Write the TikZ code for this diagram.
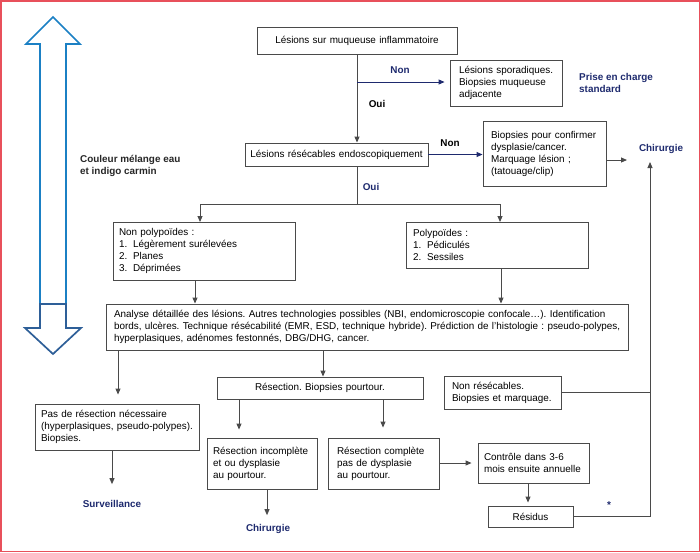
\documentclass[tikz,border=0pt]{standalone}
\usepackage{fontspec}
\setmainfont{Liberation Sans}
\usetikzlibrary{arrows.meta,calc}
\definecolor{navy}{HTML}{1E2A6E}
\definecolor{lblue}{HTML}{1B80C4}
\definecolor{dblue}{HTML}{2E5F98}
\definecolor{framecol}{HTML}{E8505B}
\definecolor{linegray}{HTML}{4A4A4A}
\frenchspacing
\begin{document}
\begin{tikzpicture}[x=1pt,y=-1pt,
  font=\fontsize{9.9}{12}\selectfont,
  box/.style={draw=linegray, line width=0.9pt, rectangle, inner ysep=0pt, align=left},
  cbox/.style={box, align=center},
  arr/.style={draw=linegray, line width=0.9pt, -{Triangle[length=6pt,width=5pt]}},
  narr/.style={draw=navy, line width=0.9pt, -{Triangle[length=6pt,width=5pt]}},
  conn/.style={draw=linegray, line width=0.9pt},
  lbl/.style={font=\fontsize{9.9}{12}\selectfont\bfseries, inner sep=0pt, align=left},
  nlbl/.style={lbl, text=navy},
  bigarrow/.style={line width=1.7pt, fill=white, line join=miter}
]
% frame / bounding box
\draw[framecol, line width=1.5pt] (0.75,0.75) rectangle (699.25,551.25);
\useasboundingbox (0,0) rectangle (700,552);

% big double arrow
\draw[bigarrow, draw=lblue] (53,17) -- (80,44) -- (66,44) -- (66,304) -- (40,304) -- (40,44) -- (26,44) -- cycle;
\draw[bigarrow, draw=dblue] (40,304) -- (66,304) -- (66,328) -- (81,328) -- (53,354) -- (25,328) -- (40,328) -- cycle;
\node[lbl, text=black!85, anchor=west] (couleur) at (80,166) {Couleur mélange eau\\et indigo carmin};

% boxes
\node[cbox, minimum width=200pt, minimum height=27pt, text width=190pt, inner xsep=5pt] (b1) at (357,40.5) {Lésions sur muqueuse inflammatoire};
\node[cbox, minimum width=183pt, minimum height=23pt, text width=175pt, inner xsep=4pt] (b2) at (336.5,154.5) {Lésions résécables endoscopiquement};
\node[box, minimum width=112pt, minimum height=46pt, text width=94pt, inner xsep=9pt] (b3) at (506,83) {\mbox{Lésions sporadiques.}\\\mbox{Biopsies muqueuse}\\adjacente};
\node[box, minimum width=123pt, minimum height=65pt, text width=107pt, inner xsep=8pt] (b4) at (544.5,153.5) {\mbox{Biopsies pour confirmer}\\\mbox{dysplasie/cancer.}\\\mbox{Marquage lésion ;}\\\mbox{(tatouage/clip)}};
\node[box, minimum width=182pt, minimum height=58pt, text width=170pt, inner xsep=6pt] (b5) at (204,251) {Non polypoïdes :\\\makebox[14pt][l]{1.}Légèrement surélevées\\\makebox[14pt][l]{2.}Planes\\\makebox[14pt][l]{3.}Déprimées};
\node[box, minimum width=182pt, minimum height=46pt, text width=168pt, inner xsep=7pt] (b6) at (497,245) {Polypoïdes :\\\makebox[14pt][l]{1.}Pédiculés\\\makebox[14pt][l]{2.}Sessiles};
\node[box, minimum width=522pt, minimum height=46pt, text width=506pt, inner xsep=8pt] (b7) at (367,327) {\mbox{Analyse détaillée des lésions. Autres technologies possibles (NBI, endomicroscopie confocale…). Identification}\\\mbox{bords, ulcères. Technique résécabilité (EMR, ESD, technique hybride). Prédiction de l’histologie : pseudo-polypes,}\\\mbox{hyperplasiques, adénomes festonnés, DBG/DHG, cancer.}};
\node[cbox, minimum width=206pt, minimum height=22pt, text width=196pt, inner xsep=5pt] (b8) at (320,388) {Résection. Biopsies pourtour.};
\node[box, minimum width=164pt, minimum height=46pt, text width=152pt, inner xsep=6pt] (b9) at (117,427) {\mbox{Pas de résection nécessaire}\\\mbox{(hyperplasiques, pseudo-polypes).}\\Biopsies.};
\node[box, minimum width=110pt, minimum height=51pt, text width=98pt, inner xsep=6pt] (b10) at (262,463.5) {\mbox{Résection incomplète}\\\mbox{et ou dysplasie}\\\mbox{au pourtour.}};
\node[box, minimum width=111pt, minimum height=51pt, text width=93pt, inner xsep=9pt] (b11) at (383.5,463.5) {\mbox{Résection complète}\\\mbox{pas de dysplasie}\\\mbox{au pourtour.}};
\node[box, minimum width=111pt, minimum height=40pt, text width=99pt, inner xsep=6pt] (b12) at (533.5,463) {\mbox{Contrôle dans 3-6}\\\mbox{mois ensuite annuelle}};
\node[cbox, minimum width=85pt, minimum height=21pt, text width=77pt, inner xsep=4pt] (b13) at (530.5,516.5) {Résidus};
\node[box, minimum width=117pt, minimum height=33pt, text width=101pt, inner xsep=8pt] (b14) at (502.5,392.5) {\mbox{Non résécables.}\\\mbox{Biopsies et marquage.}};

% labels
\node[nlbl] (non1) at (400,70) {Non};
\node[lbl] (oui1) at (377,104) {Oui};
\node[nlbl, anchor=west] (prise) at (579,82.5) {Prise en charge\\standard};
\node[lbl] (non2) at (450,143) {Non};
\node[nlbl] (chir1) at (661,149) {Chirurgie};
\node[nlbl] (oui2) at (371,187) {Oui};
\node[nlbl] (surv) at (112,504) {Surveillance};
\node[nlbl] (chir2) at (268,529) {Chirurgie};
\node[text=navy, inner sep=0pt, font=\fontsize{10}{10}\selectfont\bfseries] (star) at (609,505) {*};

% helper coordinates
\coordinate (n1) at (357,82);
\coordinate (sp) at (357,204);
\coordinate (t5) at (200,222);
\coordinate (t6) at (500,222);
\coordinate (a5) at (195,280);
\coordinate (a6) at (501,268);
\coordinate (c4) at (627,160);
\coordinate (cu) at (650,162);
\coordinate (d9) at (118,350);
\coordinate (d8) at (323,350);
\coordinate (e10) at (239,399);
\coordinate (e11) at (383,399);
\coordinate (f9) at (112,450);
\coordinate (f10) at (267,489);
\coordinate (g12) at (528,483);

% connectors
\draw[arr] (b1.south) -- (b1.south |- b2.north);
\draw[narr, shorten >=5pt] (n1) -- (n1 -| b3.west);
\draw[narr] (b2.east) -- (b2.east -| b4.west);
\draw[arr] (b4.east |- c4) -- (c4);
\draw[conn] (b1.south |- b2.south) -- (sp);
\draw[arr] (sp) -| (t5);
\draw[arr] (sp) -| (t6);
\draw[arr] (a5) -- (a5 |- b7.north);
\draw[arr] (a6) -- (a6 |- b7.north);
\draw[arr, shorten >=9pt] (d9) -- (d9 |- b9.north);
\draw[arr] (d8) -- (d8 |- b8.north);
\draw[arr, shorten >=8pt] (e10) -- (e10 |- b10.north);
\draw[arr, shorten >=10pt] (e11) -- (e11 |- b11.north);
\draw[arr, shorten >=16pt] (f9) -- (f9 |- surv.north);
\draw[arr, shorten >=9pt] (f10) -- (f10 |- chir2.north);
\draw[arr, shorten >=6pt] (b11.east |- b12.west) -- (b12.west);
\draw[arr, shorten >=3pt] (g12) -- (g12 |- b13.north);
\draw[arr] (b13.east) -| (cu);
\draw[conn] (b14.east) -- (b14.east -| cu);
\end{tikzpicture}
\end{document}
